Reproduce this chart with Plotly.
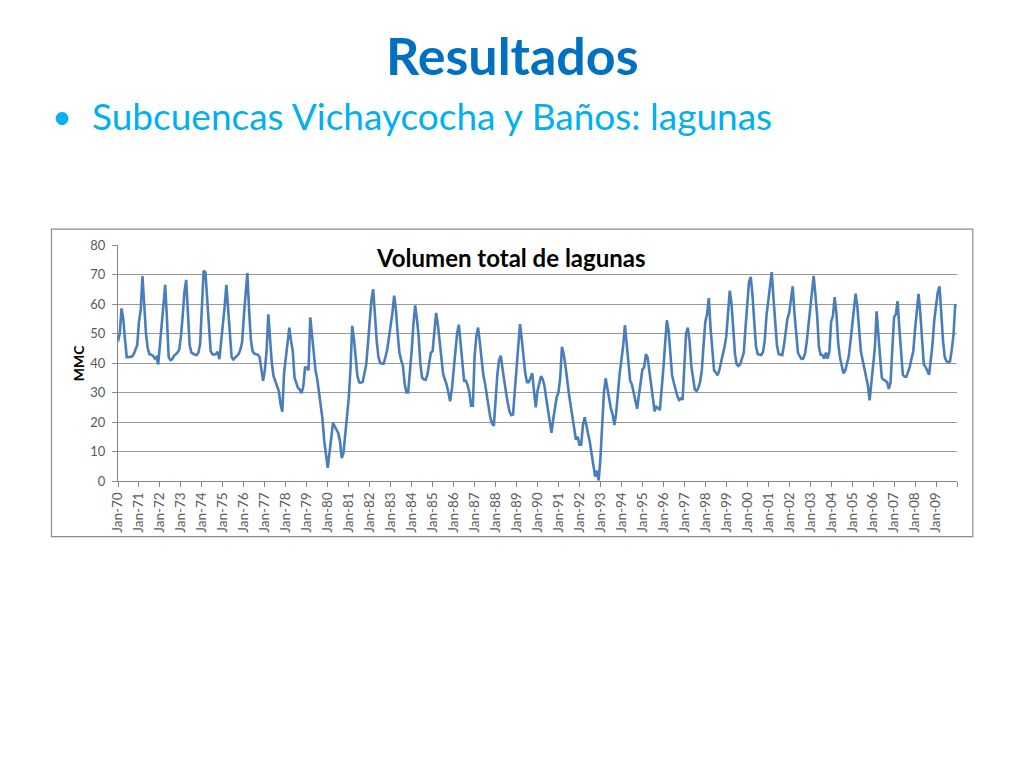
import plotly.graph_objects as go

# ---- data (MMC, monthly Jan-1970 .. Dec-2009) ----
start_year = 1970
n_years = 40
volumen_mmc = [
    47.3, 50, 58.5, 55, 48, 42, 42, 42, 42.2, 43, 44.5, 46,          # 1970
    54, 58, 69.5, 60, 50, 45, 43, 42.8, 42.5, 41.5, 42, 39.5,        # 1971
    47, 54, 61, 66.5, 55, 42, 41, 41.3, 42.4, 43, 43.5, 44.5,        # 1972
    49, 56, 64, 68.2, 56, 46, 43.5, 43, 42.8, 42.7, 43.5, 46.5,      # 1973
    58, 71.3, 70.8, 62, 52, 44, 43, 42.8, 43, 43.8, 41.3, 47,        # 1974
    52, 59, 66.5, 58, 48, 42, 41.2, 41.8, 42.5, 43, 44.5, 47,        # 1975
    56, 63, 70.5, 58, 48, 44, 43.2, 43, 42.8, 42, 38.5, 34,          # 1976
    37.5, 44, 56.5, 48, 40, 35.5, 34, 32, 30.5, 26, 23.5, 36.5,      # 1977
    42, 47, 52, 47.5, 44, 35, 33.5, 31.5, 31, 29.8, 32, 38.5,        # 1978
    38.5, 37.5, 55.5, 50, 43, 37.5, 34.5, 30, 26, 21, 13.5, 8,       # 1979
    4.5, 9.5, 16, 19.7, 18.5, 17.5, 16.3, 13.4, 7.8, 9.5, 16, 20.5,  # 1980
    28, 38, 52.6, 48, 42, 35.5, 33.4, 33.3, 33.6, 36.5, 39.5, 46.5,  # 1981
    53, 61.5, 65, 56, 47.5, 42, 40, 39.8, 39.8, 42, 44.5, 48.6,      # 1982
    52.5, 57, 62.8, 58, 50, 43.5, 41, 39, 33, 30, 30, 36,            # 1983
    44, 53, 59.5, 55, 49, 39.5, 35, 34.5, 34.3, 36, 40, 43.5,        # 1984
    44, 51, 57, 53, 47, 40, 36.3, 34.5, 32.7, 30, 27, 31,            # 1985
    37.5, 43, 50, 53, 46, 39, 34, 34, 32.5, 30, 25.5, 25.5,          # 1986
    42, 49, 52, 47, 41, 36, 33, 29, 25, 21.5, 19.5, 18.7,            # 1987
    27, 36, 41, 42.5, 38, 33.5, 30, 26.5, 23.5, 22.3, 22.5, 30.5,    # 1988
    38, 44.5, 53.2, 48, 42, 36.5, 33.5, 33.5, 35, 36.5, 30.5, 25,    # 1989
    30.5, 33, 35.5, 34.5, 32.2, 28, 24, 21.4, 16.3, 21, 25, 28.5,    # 1990
    30, 35, 45.5, 43, 39, 33.5, 29.5, 25.5, 21.5, 18, 14, 15,        # 1991
    12.3, 12.3, 19, 21.6, 19, 16, 13, 9, 4.3, 1.5, 3.5, 0.2,         # 1992
    7.7, 18, 30, 34.8, 31.5, 27.5, 24.5, 22.5, 19, 23, 30, 36.5,     # 1993
    41, 45.8, 52.8, 46, 41, 34, 32.7, 30, 28.3, 24.5, 29, 34,        # 1994
    37.8, 38.5, 43, 41.8, 37.3, 33.5, 28, 23.6, 25.2, 24.8, 24, 30,  # 1995
    38, 46.4, 54.5, 51, 43, 35.8, 33.3, 31, 28.8, 27.5, 28, 27.5,    # 1996
    39.5, 50, 52, 47.5, 39, 34, 31, 30.5, 31.5, 33.5, 37.5, 46,      # 1997
    54, 56.5, 62, 52, 45, 37.5, 36.8, 35.8, 37.5, 40, 42.5, 45.5,    # 1998
    49, 58, 64.5, 60, 50, 43, 39.5, 39, 39.6, 41.5, 43.5, 52,        # 1999
    60, 67.5, 69.2, 63, 54, 45.5, 43, 42.8, 42.7, 43.7, 47.5, 56,    # 2000
    61.5, 67.5, 70.8, 62, 52, 46, 43, 42.8, 42.7, 46, 50.5, 55,      # 2001
    57, 62, 66, 57, 49, 43.5, 42.3, 41.4, 41.5, 43, 47, 53,          # 2002
    56.6, 62.5, 69.5, 63, 56, 45.5, 42.8, 42.7, 41.5, 43.5, 41.5, 44,  # 2003
    54, 56, 62.3, 57, 47, 42, 39, 36.5, 37.3, 39.5, 42, 47,          # 2004
    52, 56.5, 63.5, 59, 52, 44, 41, 38.5, 35.5, 32.5, 27.3, 33.5,    # 2005
    39.5, 45, 57.5, 51, 42, 35, 34.3, 34, 33.5, 31.2, 33.5, 45,      # 2006
    55.5, 56.6, 61, 52, 42.5, 36, 35.4, 35.3, 37, 38.8, 41.5, 44,    # 2007
    51.5, 57, 63.4, 57, 47.5, 39.5, 38.7, 37.5, 36, 41, 46.5, 54.5,  # 2008
    60.5, 64, 66, 56, 47.5, 42, 40.6, 40.3, 40.5, 44.5, 49.5, 60,    # 2009
]
month_index = list(range(len(volumen_mmc)))
tick_positions = [12 * k for k in range(n_years + 1)]
tick_labels = ["Jan-%02d" % ((start_year + k) % 100) for k in range(n_years)] + [""]
y_ticks = [0, 10, 20, 30, 40, 50, 60, 70, 80]

chart_title = "Volumen total de lagunas"
y_title = "MMC"
slide_title = "Resultados"
bullet_text = "Subcuencas Vichaycocha y Baños: lagunas"

# ---- layout geometry (pixels, page has an 8px body offset) ----
OFF = 8
W, H = 1024, 768
L, T = 118 - OFF, 245.3 - OFF
R = W - (956.7 - OFF)
B = H - (481.3 - OFF)
pw, ph = W - L - R, H - T - B


def px(x):
    return (x - OFF - L) / pw


def py(y):
    return 1 - (y - OFF - T) / ph


fig = go.Figure()
fig.add_trace(go.Scatter(
    x=month_index, y=volumen_mmc, mode="lines",
    line=dict(color="#4A7EBB", width=2.6), hoverinfo="y", showlegend=False,
))

fig.update_layout(
    width=W, height=H,
    margin=dict(l=L, r=R, t=T, b=B, pad=0),
    paper_bgcolor="white", plot_bgcolor="white",
    font=dict(family="Lato, Open Sans, sans-serif", color="#595959"),
    xaxis=dict(
        range=[0, 480], tickmode="array", tickvals=tick_positions, ticktext=tick_labels,
        tickangle=-90, tickfont=dict(size=13.5, color="#595959"),
        ticks="outside", ticklen=5, tickcolor="#868686", showgrid=False,
        showline=True, linecolor="#868686", linewidth=1, zeroline=False,
    ),
    yaxis=dict(
        range=[0, 80], tickmode="array", tickvals=y_ticks,
        tickfont=dict(size=13, color="#595959"),
        ticks="outside", ticklen=5, tickcolor="#8C8C8C",
        showgrid=True, gridcolor="#9A9A9A", gridwidth=1,
        showline=True, linecolor="#868686", linewidth=1, zeroline=False,
        ticklabelstandoff=4,
    ),
    shapes=[
        dict(type="rect", xref="paper", yref="paper",
             x0=px(51.5), x1=px(972.5), y0=py(229.5), y1=py(537),
             line=dict(color="#8C8C8C", width=1.2), fillcolor="rgba(0,0,0,0)", layer="below"),
    ],
    annotations=[
        dict(text="<b>%s</b>" % slide_title, xref="paper", yref="paper",
             x=px(512), y=py(55), showarrow=False, xanchor="center", yanchor="middle",
             font=dict(family="Lato, sans-serif", size=52, color="#0070C0")),
        dict(text="•", xref="paper", yref="paper",
             x=px(62), y=py(116), showarrow=False, xanchor="center", yanchor="middle",
             font=dict(family="Lato, sans-serif", size=34, color="#00B0F0")),
        dict(text=bullet_text, xref="paper", yref="paper",
             x=px(90), y=py(116), showarrow=False, xanchor="left", yanchor="middle",
             font=dict(family="Lato, sans-serif", size=37, color="#00B0F0")),
        dict(text="<b>%s</b>" % chart_title, xref="paper", yref="paper",
             x=px(511), y=py(258), showarrow=False, xanchor="center", yanchor="middle",
             font=dict(family="Lato, sans-serif", size=24, color="#000000")),
        dict(text="<b>%s</b>" % y_title, xref="paper", yref="paper",
             x=px(78.5), y=py(363), showarrow=False, xanchor="center", yanchor="middle",
             textangle=-90, font=dict(family="Lato, sans-serif", size=14, color="#000000")),
    ],
)

fig.write_html("out.html")
